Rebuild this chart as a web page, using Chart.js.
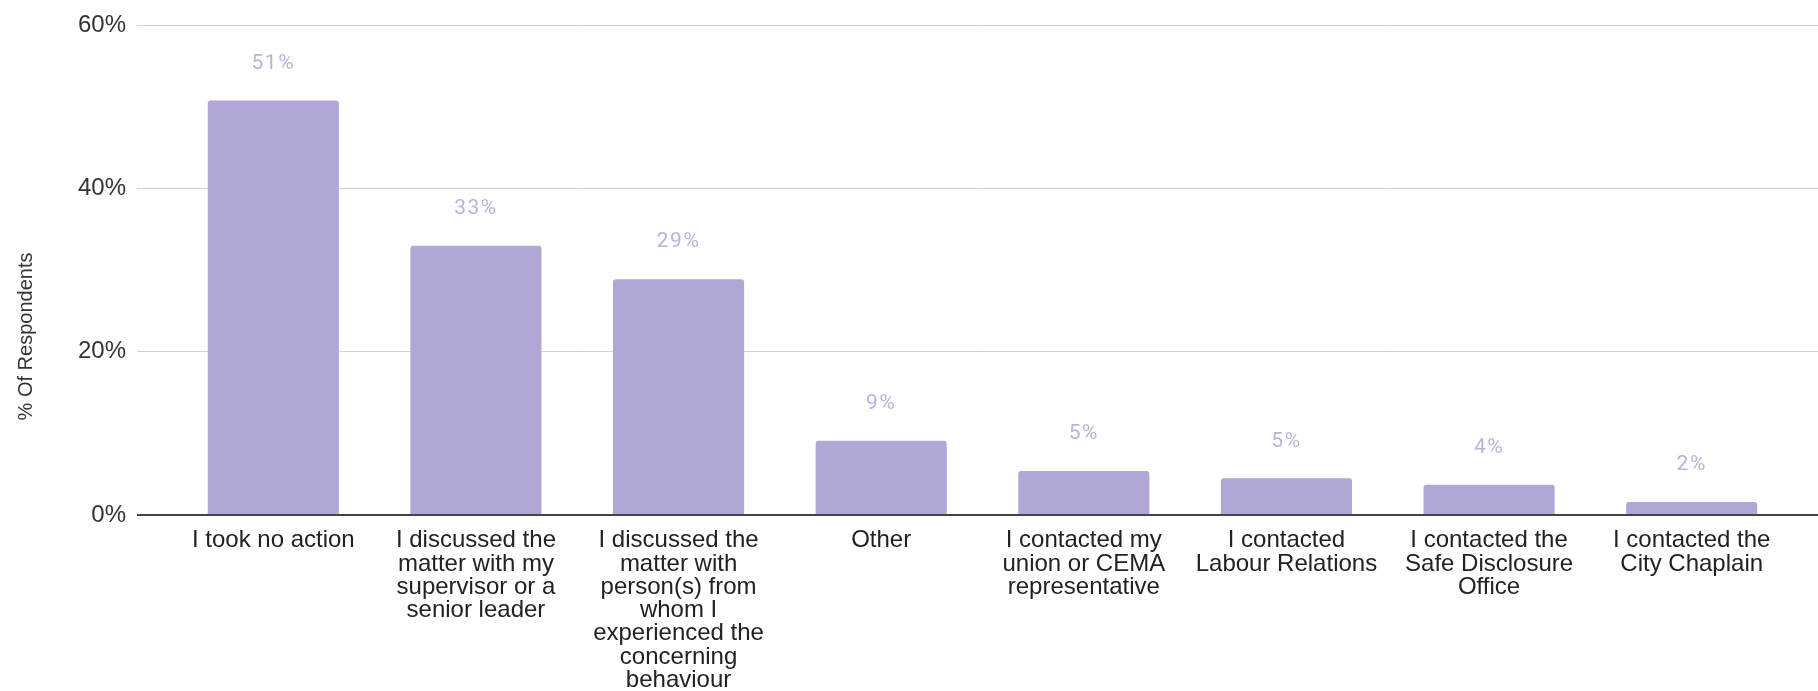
<!DOCTYPE html>
<html>
<head>
<meta charset="utf-8">
<title>Actions taken</title>
<script src="https://cdn.jsdelivr.net/npm/chart.js@4"></script>
<style>
    html, body { margin: 0; padding: 0; background: #fff; }
    #wrap { width: 1818px; height: 691px; position: relative; }
</style>
</head>
<body>
<div id="wrap"><canvas id="action-chart"></canvas></div>
<script>
    const categories = [
        'I took no action',
        ['I discussed the', 'matter with my', 'supervisor or a', 'senior leader'],
        ['I discussed the', 'matter with', 'person(s) from', 'whom I', 'experienced the', 'concerning', 'behaviour'],
        'Other',
        ['I contacted my', 'union or CEMA', 'representative'],
        ['I contacted', 'Labour Relations'],
        ['I contacted the', 'Safe Disclosure', 'Office'],
        ['I contacted the', 'City Chaplain'],
    ];
    const respondents = [50.8, 33.0, 28.9, 9.1, 5.4, 4.5, 3.7, 1.6];
    const yTicks = [0, 20, 40, 60];
    const yTitle = '% Of Respondents';

    const barColor = '#b1a6d5';
    const gridColor = ctx => (ctx.tick && ctx.tick.value === 0 ? '#444' : '#d2d2d2');
    const gridWidth = ctx => (ctx.tick && ctx.tick.value === 0 ? 2 : 1);

    // rounded percentage above each bar
    const valueLabels = {
        id: 'valueLabels',
        afterDatasetsDraw(chart) {
            const ctx = chart.ctx;
            const meta = chart.getDatasetMeta(0);
            ctx.save();
            ctx.font = '21px Roboto';
            ctx.letterSpacing = '1.5px';
            ctx.fillStyle = '#b8b4d9';
            ctx.textAlign = 'center';
            ctx.textBaseline = 'middle';
            meta.data.forEach((bar, i) => {
                ctx.fillText(Math.round(respondents[i]) + '%', bar.x, bar.y - 37);
            });
            ctx.restore();
        },
    };

    // vertical axis title, centred on the whole canvas height
    const axisTitle = {
        id: 'axisTitle',
        afterDraw(chart) {
            const ctx = chart.ctx;
            ctx.save();
            ctx.translate(26, chart.height / 2 - 9);
            ctx.rotate(-Math.PI / 2);
            ctx.font = '20px "Liberation Sans"';
            ctx.fillStyle = '#333';
            ctx.textAlign = 'center';
            ctx.textBaseline = 'middle';
            ctx.fillText(yTitle, 0, 0);
            ctx.restore();
        },
    };

    new Chart(document.getElementById('action-chart'), {
        type: 'bar',
        data: {
            labels: categories,
            datasets: [
                {
                    label: yTitle,
                    data: respondents,
                    backgroundColor: barColor,
                    borderRadius: 3,
                    borderSkipped: 'bottom',
                    categoryPercentage: 1,
                    barPercentage: 0.647,
                    yAxisID: 'y',
                },
            ],
        },
        options: {
            responsive: true,
            maintainAspectRatio: false,
            animation: false,
            layout: { padding: { top: 23, left: 0, right: 0, bottom: 0 } },
            plugins: {
                legend: { display: false },
                tooltip: { enabled: false },
            },
            scales: {
                x: {
                    grid: { display: false },
                    border: { display: false },
                    ticks: {
                        autoSkip: false,
                        maxRotation: 0,
                        minRotation: 0,
                        padding: 6,
                        color: '#222',
                        font: { family: 'Liberation Sans', size: 24, lineHeight: 0.97 },
                    },
                    afterFit: scale => { scale.height = 176; },
                },
                y: {
                    position: 'left',
                    min: 0,
                    max: 60,
                    afterBuildTicks: scale => { scale.ticks = yTicks.map(v => ({ value: v })); },
                    grid: { color: gridColor, lineWidth: gridWidth, tickLength: 35 },
                    border: { display: false },
                    ticks: {
                        padding: 11,
                        color: '#333',
                        font: { family: 'Liberation Sans', size: 24 },
                        callback: v => v + '%',
                    },
                    afterFit: scale => { scale.width = 172; },
                },
                y2: {
                    position: 'right',
                    min: 0,
                    max: 60,
                    afterBuildTicks: scale => { scale.ticks = yTicks.map(v => ({ value: v })); },
                    grid: { color: gridColor, lineWidth: gridWidth, tickLength: 25, drawOnChartArea: false },
                    border: { display: false },
                    ticks: { display: false },
                    afterFit: scale => { scale.width = 25; },
                },
            },
        },
        plugins: [valueLabels, axisTitle],
    });
</script>
</body>
</html>
